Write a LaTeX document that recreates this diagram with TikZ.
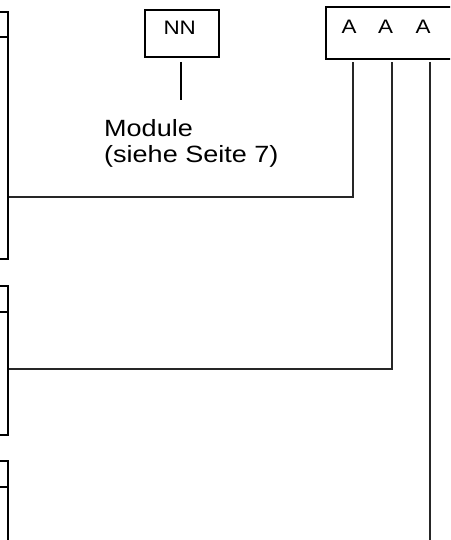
\documentclass[tikz,border=0pt]{standalone}
\usepackage{fontspec}
\newfontfamily\arialx[FakeStretch=1.15]{Liberation Sans}
\begin{document}
\begin{tikzpicture}[x=1pt,y=-1pt,
  box/.style={draw=black, line width=2.2pt, inner sep=0pt},
  conn/.style={draw=black!85, line width=1.8pt},
  lbl/.style={font=\arialx\fontsize{19.5}{22}\selectfont, inner sep=0pt, anchor=base},
  txt/.style={font=\arialx\fontsize{23.5}{26}\selectfont, inner sep=0pt, align=left, anchor=north west}]
\useasboundingbox (0,0) rectangle (450,540);
\clip (0,0) rectangle (450,540);
% left boxes (cut by the left border)
\node[box, minimum width=40pt, minimum height=247pt] (L1) at (-12,135.5) {};
\node[box, minimum width=40pt, minimum height=149pt] (L2) at (-12,360.5) {};
\node[box, minimum width=40pt, minimum height=120pt] (L3) at (-12,521) {};
\draw[line width=2.2pt] (L1.west |- 0,37) -- (L1.east |- 0,37);
\draw[line width=2.2pt] (L2.west |- 0,312) -- (L2.east |- 0,312);
\draw[line width=2.2pt] (L3.west |- 0,487) -- (L3.east |- 0,487);
% NN box
\node[box, minimum width=74.6pt, minimum height=47pt] (NN) at (182,33.5) {};
\node[lbl] (nnt) at (179.7,34.3) {NN};
\coordinate (nna) at (180.7,62);
\coordinate (nnb) at (180.7,100);
\draw[line width=1.8pt] (nna) -- (nnb);
\node[txt] (mod) at (104,119.6) {Module\\(siehe Seite 7)};
% AAA box
\node[box, minimum width=144pt, minimum height=52pt] (AAA) at (398,33) {};
\node[lbl] (a1) at (349,34) {A};
\node[lbl] (a2) at (385.7,34) {A};
\node[lbl] (a3) at (423,34) {A};
\coordinate (p1) at (352.7,62);
\coordinate (p2) at (391.7,62);
\coordinate (p3) at (430,62);
\coordinate (p3e) at (430,545);
\draw[conn] (L1.east |- 0,197) -| (p1);
\draw[conn] (L2.east |- 0,369) -| (p2);
\draw[conn] (p3) -- (p3e);
\end{tikzpicture}
\end{document}
